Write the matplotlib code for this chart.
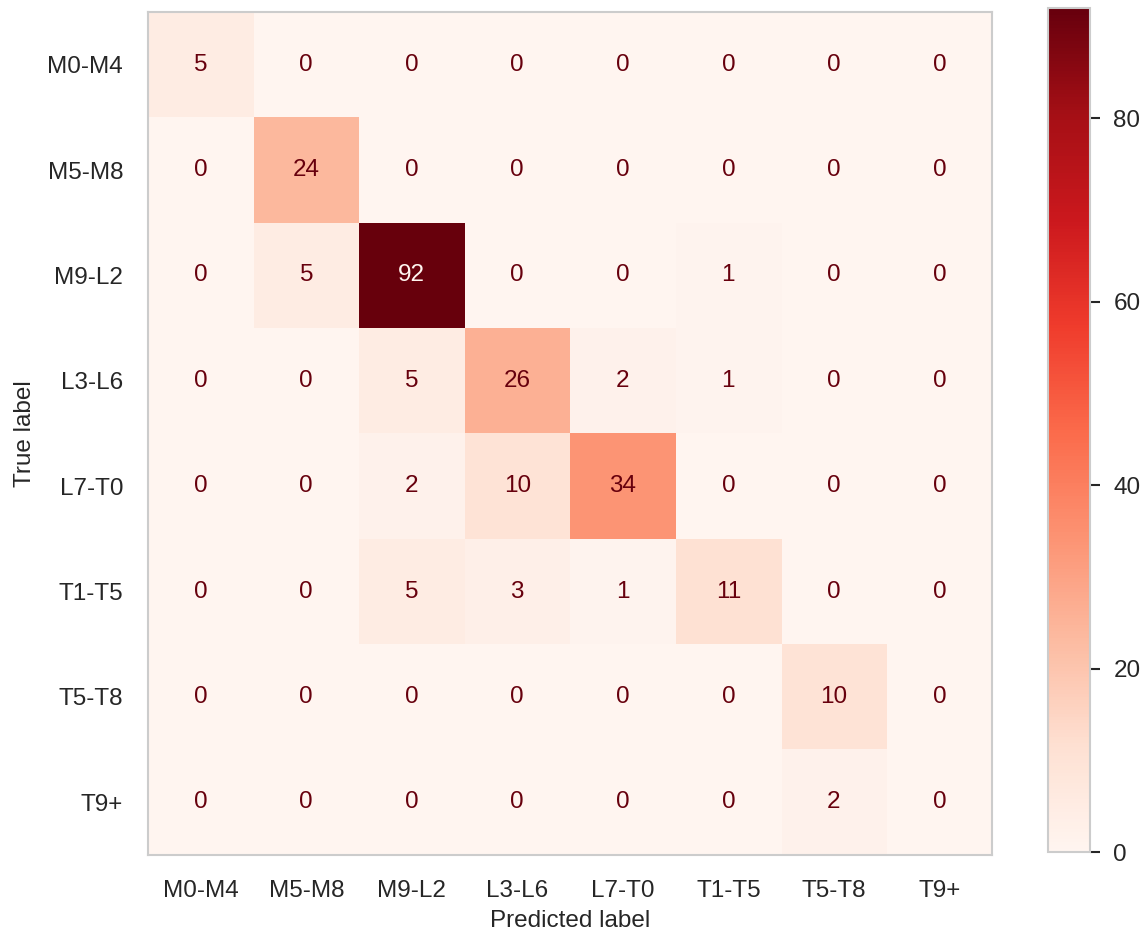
import matplotlib
matplotlib.use("Agg")
import matplotlib.pyplot as plt
import numpy as np
import seaborn as sns

# spectral type classes and confusion counts (rows = true, cols = predicted)
classes = ["M0-M4", "M5-M8", "M9-L2", "L3-L6", "L7-T0", "T1-T5", "T5-T8", "T9+"]
row_m0m4 = [5, 0, 0, 0, 0, 0, 0, 0]
row_m5m8 = [0, 24, 0, 0, 0, 0, 0, 0]
row_m9l2 = [0, 5, 92, 0, 0, 1, 0, 0]
row_l3l6 = [0, 0, 5, 26, 2, 1, 0, 0]
row_l7t0 = [0, 0, 2, 10, 34, 0, 0, 0]
row_t1t5 = [0, 0, 5, 3, 1, 11, 0, 0]
row_t5t8 = [0, 0, 0, 0, 0, 0, 10, 0]
row_t9 = [0, 0, 0, 0, 0, 0, 2, 0]

cm = np.array([row_m0m4, row_m5m8, row_m9l2, row_l3l6,
               row_l7t0, row_t1t5, row_t5t8, row_t9])

sns.set_style("whitegrid")
plt.rcParams['font.family'] = ['Liberation Sans', 'DejaVu Sans']

fs = 17.5
fig = plt.figure(figsize=(11.44, 9.36), dpi=100)
ax = fig.add_axes([0.1294, 0.0865, 0.7378, 0.9006])
cax = fig.add_axes([0.916, 0.0897, 0.0367, 0.9017])

cmap = plt.get_cmap("Reds")
im = ax.imshow(cm, cmap=cmap, interpolation="nearest", aspect="auto")
ax.grid(False)

# text colours like sklearn: dark on light cells, light on dark cells
thresh = (cm.max() + cm.min()) / 2.0
for i in range(cm.shape[0]):
    for j in range(cm.shape[1]):
        col = cmap(0.0) if cm[i, j] > thresh else cmap(1.0)
        ax.text(j, i, str(cm[i, j]), ha="center", va="center",
                color=col, fontsize=fs)

ax.set_xticks(np.arange(len(classes)))
ax.set_yticks(np.arange(len(classes)))
ax.set_xticklabels(classes)
ax.set_yticklabels(classes)
ax.tick_params(labelsize=fs, length=0, pad=18, colors="#262626")
ax.set_xlabel("Predicted label", fontsize=fs, color="#262626", labelpad=6)
ax.set_ylabel("True label", fontsize=fs, color="#262626", labelpad=8)
for sp in ax.spines.values():
    sp.set_color("#cccccc")
    sp.set_linewidth(1.5)

cb = fig.colorbar(im, cax=cax)
cb.set_ticks([0, 20, 40, 60, 80])
cb.ax.tick_params(labelsize=fs, length=7, width=1.5, color="#262626",
                  labelcolor="#262626", pad=10)
cb.outline.set_edgecolor("#cccccc")
cb.outline.set_linewidth(1.5)
cb.ax.grid(False)

fig.savefig("out.png", dpi=100)
